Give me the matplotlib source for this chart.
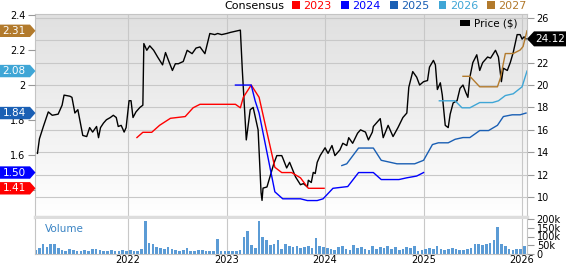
import numpy as np
import matplotlib
matplotlib.use('Agg')
import matplotlib.pyplot as plt
from matplotlib.colors import LinearSegmentedColormap
from matplotlib.patches import Polygon, Patch
from matplotlib import transforms

# price (right axis), x in decimal years
price_t = [2021.08, 2021.10, 2021.14, 2021.19, 2021.23, 2021.29, 2021.33, 2021.35, 2021.41, 2021.43,
           2021.46, 2021.49, 2021.51, 2021.54, 2021.58, 2021.61, 2021.64, 2021.68, 2021.70, 2021.72,
           2021.75, 2021.78, 2021.82, 2021.85, 2021.88, 2021.90, 2021.93, 2021.96, 2021.98, 2022.01,
           2022.03, 2022.05, 2022.08, 2022.12, 2022.15, 2022.16, 2022.19, 2022.22, 2022.26, 2022.30,
           2022.35, 2022.38, 2022.41, 2022.45, 2022.48, 2022.51, 2022.56, 2022.60, 2022.65, 2022.69,
           2022.73, 2022.78, 2022.83, 2022.88, 2022.91, 2022.95, 2023.00, 2023.04, 2023.14, 2023.16,
           2023.20, 2023.24, 2023.27, 2023.32, 2023.35, 2023.36, 2023.37, 2023.41, 2023.44, 2023.48,
           2023.51, 2023.56, 2023.57, 2023.61, 2023.64, 2023.70, 2023.75, 2023.78, 2023.82, 2023.83,
           2023.86, 2023.88, 2023.90, 2023.92, 2023.95, 2024.00, 2024.03, 2024.07, 2024.10, 2024.15,
           2024.18, 2024.22, 2024.24, 2024.28, 2024.33, 2024.36, 2024.41, 2024.44, 2024.48, 2024.49,
           2024.56, 2024.59, 2024.64, 2024.69, 2024.74, 2024.79, 2024.83, 2024.85, 2024.89, 2024.93,
           2024.96, 2025.00, 2025.04, 2025.06, 2025.10, 2025.12, 2025.14, 2025.17, 2025.19, 2025.22,
           2025.25, 2025.27, 2025.30, 2025.34, 2025.37, 2025.40, 2025.43, 2025.45, 2025.47, 2025.50,
           2025.54, 2025.57, 2025.60, 2025.65, 2025.68, 2025.73, 2025.76, 2025.79, 2025.81, 2025.85,
           2025.88, 2025.91, 2025.95, 2025.98, 2026.00, 2026.02, 2026.04]
price = [13.9, 15.2, 16.3, 17.6, 17.3, 17.4, 18.2, 19.1, 19.0, 18.9,
         17.5, 17.8, 16.9, 15.5, 15.4, 16.2, 15.8, 16.3, 15.3, 16.2,
         16.6, 16.9, 17.1, 17.3, 17.1, 16.3, 16.4, 15.8, 16.2, 18.6,
         18.6, 17.1, 17.6, 18.0, 18.2, 23.7, 23.1, 23.5, 23.1, 22.5,
         21.8, 22.9, 22.2, 21.3, 21.9, 21.9, 22.1, 23.1, 22.8, 23.3,
         23.4, 22.8, 24.6, 24.5, 24.6, 24.5, 24.6, 24.7, 24.9, 21.3,
         15.1, 17.8, 18.0, 16.0, 10.4, 9.7, 10.8, 10.9, 11.8, 13.0,
         13.7, 13.7, 13.5, 12.6, 13.1, 11.8, 11.1, 11.2, 10.9, 11.5,
         11.3, 12.2, 12.1, 13.1, 13.7, 14.4, 13.9, 14.6, 13.7, 14.2,
         14.8, 14.6, 15.3, 14.8, 15.7, 16.0, 15.8, 15.1, 15.8, 16.3,
         17.0, 15.3, 16.4, 15.4, 16.2, 17.1, 17.5, 19.8, 21.2, 20.7,
         20.0, 20.3, 20.4, 21.6, 22.2, 21.8, 19.6, 20.2, 19.1, 16.4,
         16.2, 17.4, 18.4, 18.6, 19.7, 20.0, 19.3, 18.9, 20.7, 22.0,
         22.7, 21.3, 22.0, 22.5, 22.4, 23.1, 22.5, 20.3, 21.5, 21.3,
         22.0, 22.9, 24.5, 24.5, 24.1, 24.3, 24.12]

# consensus EPS estimates (left axis)
eps23_t = [2022.09, 2022.15, 2022.24, 2022.32, 2022.43, 2022.58, 2022.66, 2022.73, 2023.09, 2023.14,
           2023.17, 2023.25, 2023.33, 2023.49, 2023.56, 2023.66, 2023.75, 2023.83, 2023.99]
eps23 = [1.70, 1.73, 1.73, 1.77, 1.81, 1.82, 1.87, 1.89, 1.89, 1.87,
         1.93, 2.00, 1.93, 1.53, 1.50, 1.50, 1.47, 1.41, 1.41]
eps24_t = [2023.09, 2023.25, 2023.29, 2023.33, 2023.49, 2023.57, 2023.75, 2023.82, 2023.92, 2023.98,
           2024.08, 2024.23, 2024.34, 2024.43, 2024.49, 2024.57, 2024.61, 2024.75, 2024.83, 2024.93, 2025.00]
eps24 = [2.00, 2.00, 1.91, 1.84, 1.39, 1.35, 1.35, 1.34, 1.34, 1.35,
         1.41, 1.42, 1.50, 1.50, 1.50, 1.46, 1.46, 1.46, 1.47, 1.48, 1.50]
eps25_t = [2024.17, 2024.22, 2024.34, 2024.49, 2024.57, 2024.73, 2024.91, 2025.00, 2025.09, 2025.15,
           2025.25, 2025.32, 2025.40, 2025.47, 2025.57, 2025.66, 2025.75, 2025.81, 2025.90, 2025.98, 2026.04]
eps25 = [1.54, 1.55, 1.64, 1.64, 1.57, 1.55, 1.55, 1.57, 1.66, 1.67,
         1.67, 1.69, 1.70, 1.70, 1.74, 1.74, 1.77, 1.82, 1.83, 1.83, 1.84]
eps26_t = [2025.16, 2025.32, 2025.39, 2025.47, 2025.57, 2025.70, 2025.76, 2025.83, 2025.91, 2026.00, 2026.05]
eps26 = [1.91, 1.91, 1.87, 1.87, 1.90, 1.90, 1.91, 1.94, 1.95, 1.99, 2.08]
eps27_t = [2025.40, 2025.47, 2025.57, 2025.75, 2025.78, 2025.83, 2025.91, 2025.98, 2026.01, 2026.05]
eps27 = [2.05, 2.05, 1.99, 1.99, 2.04, 2.18, 2.18, 2.20, 2.22, 2.31]

# volume in thousands, one bar every two weeks from early 2021
volume = [25, 35, 60, 40, 55, 60, 35, 25, 20, 30, 22, 18, 20, 25, 20, 30, 28, 22, 18, 20, 25, 18, 15, 25,
          20, 25, 20, 18, 30, 190, 65, 60, 40, 35, 30, 40, 30, 25, 20, 25, 35, 20, 18, 25, 22, 20, 18, 20, 85, 15,
          18, 20, 15, 20, 25, 100, 130, 50, 35, 190, 100, 80, 50, 60, 80, 30, 55, 45, 40, 45, 35, 40, 45, 35, 90, 45,
          40, 35, 30, 25, 40, 45, 30, 25, 50, 35, 40, 30, 25, 45, 30, 40, 35, 45, 30, 40, 25, 30, 40, 35, 45, 20,
          25, 30, 35, 30, 45, 30, 25, 30, 35, 30, 25, 25, 30, 35, 55, 60, 50, 55, 65, 80, 155, 60, 45, 30, 25, 30,
          30, 45]
vol_start = 2021.06

years = [2022, 2023, 2024, 2025, 2026]
eps_ticks = [1.4, 1.6, 1.8, 2.0, 2.2, 2.4]
price_ticks = [10, 12, 14, 16, 18, 20, 22, 24, 26]
series = [('2023', eps23_t, eps23, '#ff0000'),
          ('2024', eps24_t, eps24, '#0000ff'),
          ('2025', eps25_t, eps25, '#1a5fb4'),
          ('2026', eps26_t, eps26, '#3fa6d6'),
          ('2027', eps27_t, eps27, '#b27a2c')]

plt.rcParams['font.family'] = 'DejaVu Sans'
W, H = 568, 264
fig = plt.figure(figsize=(W / 100, H / 100), dpi=100)
ax = fig.add_axes([35 / W, 1 - 217 / H, 492 / W, 203 / H])
vax = fig.add_axes([35 / W, 1 - 254 / H, 492 / W, 35 / H], sharex=ax)
ax2 = ax.twinx()

gray = '#c4c4c4'
# background gradient of the price panel
cmap = LinearSegmentedColormap.from_list('bg', ['#e0e0e0', '#ffffff'])
ax.imshow(np.linspace(0, 1, 256).reshape(-1, 1), cmap=cmap, extent=[0, 1, 0, 1],
          transform=ax.transAxes, aspect='auto', zorder=0)

ax.plot(price_t, price, color='black', lw=1.0, zorder=3)
for name, t, v, c in series:
    ax2.plot(t, v, color=c, lw=1.0)

ax.set_xlim(2021.055, 2026.05)
ax.set_ylim(8.22, 26.34)
ax2.set_ylim(1.246, 2.406)

last = price[-1]

ax.set_axisbelow(True)
ax.grid(True, color='#c8c8c8', lw=0.8)
ax.set_xticks(years)
ax.tick_params(axis='x', length=0, labelbottom=False)
ax.yaxis.tick_right()
ax.set_yticks(price_ticks)
# labels hidden behind the last-price tag are left blank
ax.set_yticklabels(['' if abs(p - last) < 0.7 else str(p) for p in price_ticks])
ax.tick_params(axis='y', direction='out', length=5, width=0.8, color='#999999', labelsize=7, pad=2)
for s in ['left', 'right', 'top']:
    ax.spines[s].set_color(gray)
ax.spines['bottom'].set_color('#dddddd')
ax.spines['bottom'].set_linewidth(2.5)
for s in ax2.spines.values():
    s.set_visible(False)
ax2.yaxis.tick_left()
ax2.set_yticks(eps_ticks)
ends = [v[-1] for _, _, v, _ in series]
ax2.set_yticklabels(['' if min(abs(e - v) for v in ends) < 0.02 else '%g' % e for e in eps_ticks])
ax2.tick_params(axis='y', direction='out', length=5, width=0.8, color='#999999', labelsize=7, pad=2)

# volume panel
vol_t = vol_start + np.arange(len(volume)) / 26
vax.bar(vol_t, volume, width=0.7 / 26, color='#5b9bd5', edgecolor='none')
vax.set_ylim(0, 200)
vax.grid(True, axis='x', color='#c8c8c8', lw=0.8)
vax.set_axisbelow(True)
vax.set_xticks(years)
vax.set_xticklabels([str(y) for y in years])
vax.tick_params(axis='x', length=0, labelsize=7, pad=1)
vax.yaxis.tick_right()
vax.set_yticks([0, 50, 100, 150, 200])
vax.set_yticklabels(['0', '50k', '100k', '150k', '200k'])
vax.tick_params(axis='y', direction='out', length=5, width=0.8, color='#999999', labelsize=7, pad=2)
vax.spines['top'].set_visible(False)
for s in ['left', 'right', 'bottom']:
    vax.spines[s].set_color(gray)
fig.text(45 / W, 1 - 229 / H, 'Volume', color='#3a84c4', fontsize=7.5, va='center')

# top legend
fig.text(224 / W, 1 - 6 / H, 'Consensus', fontsize=8, va='center')
leg = fig.legend(handles=[Patch(facecolor=c, edgecolor='none') for _, _, _, c in series],
                 labels=[n for n, _, _, _ in series], ncol=5, loc='center left',
                 bbox_to_anchor=(292 / W, 1 - 6 / H), frameon=False, fontsize=8,
                 handlelength=0.7, handleheight=0.7, handletextpad=0.3, columnspacing=0.85,
                 borderpad=0, borderaxespad=0)
for txt, (_, _, _, c) in zip(leg.get_texts(), series):
    txt.set_color(c)

# price legend
ax.legend(handles=[Patch(facecolor='black', edgecolor='none')], labels=['Price ($)'],
          loc='upper right', bbox_to_anchor=(1 - 9 / 492, 1 - 5 / 203), frameon=False,
          fontsize=7.5, handlelength=1.0, handleheight=0.45, handletextpad=0.4,
          borderpad=0, borderaxespad=0)

# value tags on the left (last EPS estimates)
bl = transforms.blended_transform_factory(fig.transFigure, ax2.transData)
hh = 6.2 / 175
for name, t, v, c in series:
    val = v[-1]
    poly = Polygon([(0, val - hh), (30 / W, val - hh), (35.5 / W, val), (30 / W, val + hh), (0, val + hh)],
                   closed=True, facecolor=c, edgecolor='none', transform=bl, zorder=5)
    fig.add_artist(poly)
    fig.text(14 / W, val, '%.2f' % val, transform=bl, color='white', fontsize=7.5,
             ha='center', va='center', zorder=6)

# last price tag on the right
br = transforms.blended_transform_factory(fig.transFigure, ax.transData)
ph = 7.5 / 11.2
poly = Polygon([(527 / W, last), (534 / W, last + ph), (566 / W, last + ph), (566 / W, last - ph), (534 / W, last - ph)],
               closed=True, facecolor='black', edgecolor='none', transform=br, zorder=5)
fig.add_artist(poly)
fig.text(550 / W, last, '%.2f' % last, transform=br, color='white', fontsize=7.5,
         ha='center', va='center', zorder=6)

fig.savefig('out.png', dpi=100, facecolor='white')
